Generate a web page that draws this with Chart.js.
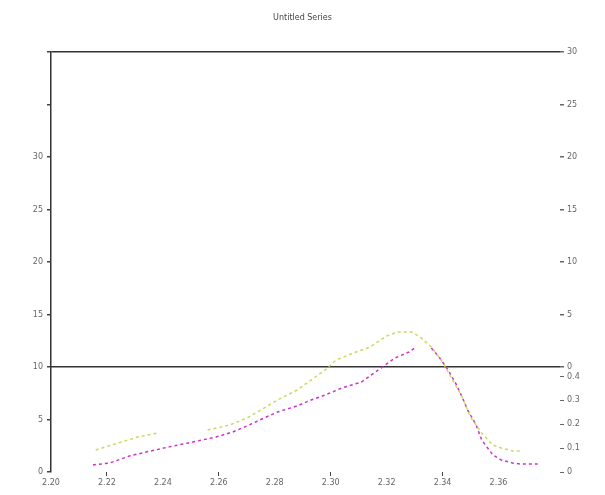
<!DOCTYPE html>
<html>
<head>
<meta charset="utf-8">
<script src="https://cdn.jsdelivr.net/npm/chart.js@4/dist/chart.umd.min.js"></script>
<style>
  html, body { margin: 0; padding: 0; background: #fff; }
  #wrap { width: 605px; height: 495px; }
</style>
</head>
<body>
<div id="wrap"><canvas id="chart"></canvas></div>
<script>
const chartTitle = "Untitled Series";

const xTickLabels = ["2.20", "2.22", "2.24", "2.26", "2.28", "2.30", "2.32", "2.34", "2.36"];
const leftTicks = [0, 5, 10, 15, 20, 25, 30];
const rightTopTicks = ["0", "5", "10", "15", "20", "25", "30"];
const rightBottomTicks = ["0", "0.1", "0.2", "0.3", "0.4"];

// series A (magenta), null = gap
const magentaX = [2.215, 2.221, 2.228, 2.234, 2.242, 2.249, 2.259, 2.265, 2.270, 2.277, 2.281, 2.288, 2.293, 2.298, 2.304, 2.311, 2.318, 2.323, 2.328, 2.330, 2.333, 2.336, 2.339, 2.342, 2.345, 2.347, 2.349, 2.352, 2.354, 2.358, 2.361, 2.365, 2.368, 2.374];
const magentaY = [0.67, 0.86, 1.52, 1.90, 2.38, 2.76, 3.33, 3.81, 4.38, 5.24, 5.71, 6.29, 6.86, 7.33, 8.00, 8.57, 9.90, 10.86, 11.43, 11.81, null, 11.81, 10.86, 9.71, 8.29, 7.14, 5.90, 4.48, 3.05, 1.62, 1.14, 0.86, 0.76, 0.76];

// series B (yellow-green)
const greenX = [2.216, 2.224, 2.231, 2.238, 2.248, 2.256, 2.264, 2.270, 2.275, 2.281, 2.288, 2.293, 2.298, 2.302, 2.308, 2.314, 2.320, 2.324, 2.329, 2.332, 2.336, 2.340, 2.343, 2.347, 2.350, 2.354, 2.358, 2.361, 2.365, 2.368];
const greenY = [2.10, 2.76, 3.33, 3.71, null, 4.00, 4.48, 5.14, 5.90, 6.86, 7.81, 8.76, 9.71, 10.67, 11.33, 11.90, 12.95, 13.33, 13.33, 12.86, 11.90, 10.48, 9.05, 7.14, 5.24, 3.71, 2.57, 2.29, 2.00, 2.00];

const toPoints = (xs, ys) => xs.map((x, i) => ({ x: x, y: ys[i] }));

const tickFont = { family: "DejaVu Sans", size: 8 };
const tickColor = "#666";

new Chart(document.getElementById("chart"), {
  type: "line",
  data: {
    datasets: [
      {
        label: "B",
        data: toPoints(greenX, greenY),
        borderColor: "#c6dc5c",
        borderWidth: 1.5,
        borderDash: [3, 3],
        pointRadius: 0,
        spanGaps: false,
        yAxisID: "y"
      },
      {
        label: "A",
        data: toPoints(magentaX, magentaY),
        borderColor: "#cc33cc",
        borderWidth: 1.5,
        borderDash: [3, 3],
        pointRadius: 0,
        spanGaps: false,
        yAxisID: "y"
      }
    ]
  },
  options: {
    responsive: true,
    maintainAspectRatio: false,
    animation: false,
    layout: { padding: 0 },
    plugins: {
      legend: { display: false },
      tooltip: { enabled: false },
      title: {
        display: true,
        text: chartTitle,
        color: "#444",
        font: { family: "DejaVu Sans", size: 8, weight: "normal" },
        padding: { top: 13, bottom: 29.4 }
      }
    },
    scales: {
      x: {
        type: "linear",
        position: "bottom",
        min: 2.2,
        max: 2.382,
        afterFit: s => { s.height = 23; },
        border: { display: false },
        grid: {
          drawOnChartArea: false,
          tickLength: 4,
          tickColor: ctx => (ctx.index % 2 && ctx.index < xTickLabels.length ? "#444" : "transparent")
        },
        ticks: {
          stepSize: 0.02,
          includeBounds: false,
          maxRotation: 0,
          autoSkip: false,
          padding: 2,
          color: tickColor,
          font: tickFont,
          callback: (v, i) => xTickLabels[i] ?? ""
        }
      },
      y: {
        position: "left",
        min: 0,
        max: 40,
        afterFit: s => { s.width = 51; },
        border: { display: true, color: "#333", width: 1.5 },
        grid: {
          drawOnChartArea: true,
          color: ctx => (ctx.tick && ctx.tick.value === 40 ? "#333" : "transparent"),
          lineWidth: 1.5,
          tickLength: 4,
          tickColor: "#444"
        },
        ticks: {
          stepSize: 5,
          padding: 4,
          color: tickColor,
          font: tickFont,
          callback: v => (leftTicks.includes(v) ? String(v) : "")
        }
      },
      yTop: {
        position: "right",
        stack: "right",
        stackWeight: 3,
        min: 0,
        max: 30,
        afterFit: s => { s.width = 45; },
        border: { display: false },
        grid: {
          drawOnChartArea: true,
          color: ctx => (ctx.tick && ctx.tick.value === 0 ? "#333" : "transparent"),
          lineWidth: 1.5,
          tickLength: 4,
          tickColor: "#666"
        },
        ticks: {
          stepSize: 5,
          padding: 3,
          color: tickColor,
          font: tickFont,
          callback: (v, i) => rightTopTicks[i] ?? ""
        }
      },
      yBottom: {
        position: "right",
        stack: "right",
        stackWeight: 1,
        min: 0,
        max: 0.44,
        afterFit: s => { s.width = 45; },
        border: { display: false },
        grid: {
          drawOnChartArea: false,
          tickLength: 4,
          tickColor: ctx => (ctx.index < rightBottomTicks.length ? "#666" : "transparent")
        },
        ticks: {
          stepSize: 0.1,
          includeBounds: false,
          padding: 3,
          color: tickColor,
          font: tickFont,
          callback: (v, i) => rightBottomTicks[i] ?? ""
        }
      }
    }
  }
});
</script>
</body>
</html>
